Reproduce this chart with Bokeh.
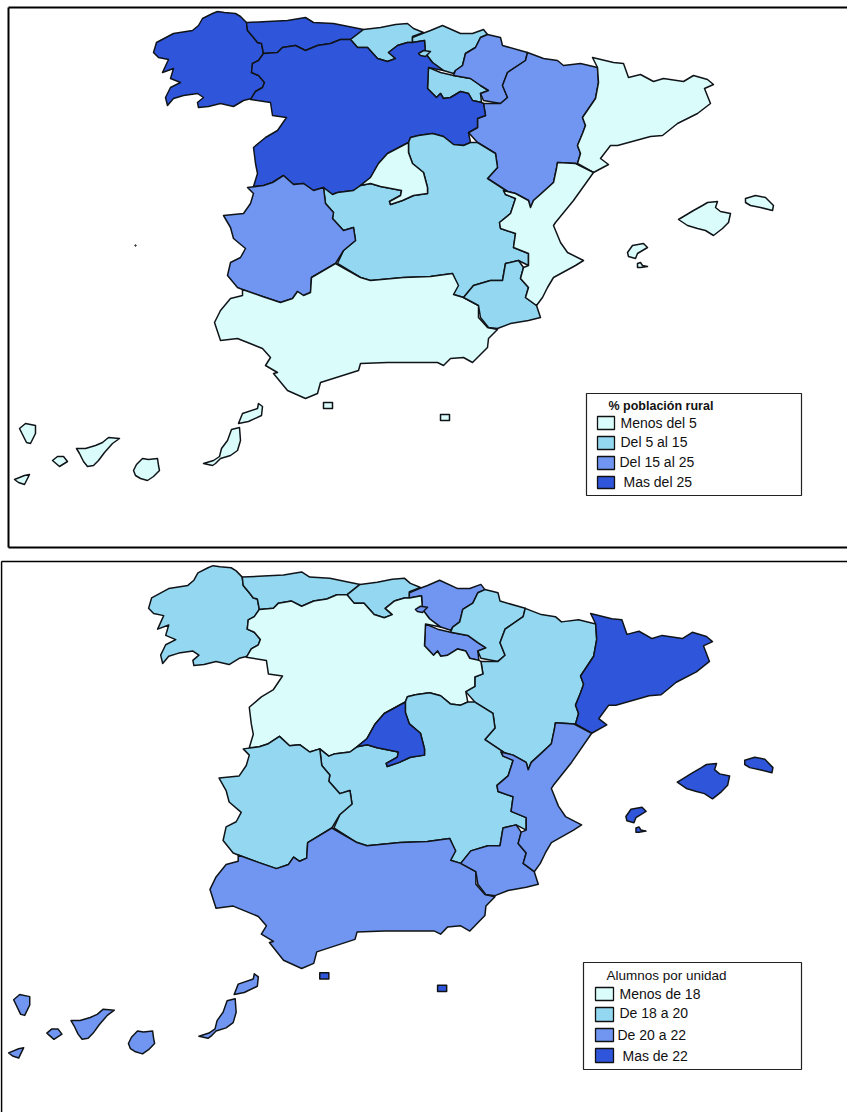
from bokeh.embed import file_html
from bokeh.models import Range1d
from bokeh.plotting import figure
from bokeh.resources import INLINE
from bokeh.core.properties import value

# ---- region outlines (map units) ----
GALICIA = [(212,13),(217,11),(224,12),(235,13),(240,16),(246,22),(247,30),(253,37),(257,42),(261,43),(263,53),(258,60),(252,63),(251,72),(258,75),(264,82),(262,87),(255,91),(251,98),(243,100),(233,106),(220,103),(208,106),(198,107),(197,102),(203,97),(197,93),(183,95),(173,98),(167,105),(165,97),(170,87),(180,82),(170,78),(173,68),(162,72),(168,59),(158,57),(153,52),(156,42),(173,33),(192,30),(198,25),(202,18)]
ASTURIAS = [(246,22),(267,21),(287,20),(305,17),(313,22),(333,23),(363,29),(350,39),(340,39),(330,43),(317,45),(305,50),(295,45),(282,47),(277,52),(263,53),(261,43),(257,42),(253,37),(247,30)]
CANTABRIA = [(363,29),(380,27),(395,24),(407,23),(413,28),(423,32),(412,36),(412,42),(407,42),(397,45),(388,52),(395,58),(387,61),(377,58),(367,47),(357,47),(350,39)]
PAIS_VASCO = [(412,42),(412,37),(422,33),(430,30),(442,25),(460,33),(472,33),(483,29),(487,34),(480,37),(475,47),(465,53),(462,65),(455,70),(453,73),(443,70),(432,62),(425,53),(424,40)]
TREVINO = [(418,53),(423,50),(430,51),(425,56),(420,55)]
LA_RIOJA = [(428,67),(440,72),(453,75),(470,78),(480,85),(488,90),(480,93),(481,102),(472,100),(468,93),(460,91),(450,97),(443,98),(440,93),(436,97),(427,88)]
CASTILLA_LEON = [(263,53),(277,52),(282,47),(295,45),(305,50),(317,45),(330,43),(340,39),(350,39),(357,47),(367,47),(377,58),(387,61),(395,58),(388,52),(397,45),(407,42),(412,42),(424,40),(425,53),(432,62),(443,70),(428,67),(427,88),(436,97),(440,93),(443,98),(450,97),(460,91),(468,93),(472,100),(481,102),(483,103),(485,115),(477,118),(477,127),(468,132),(470,142),(463,145),(453,144),(443,136),(432,133),(418,135),(410,137),(408,142),(387,153),(378,163),(370,177),(360,185),(353,190),(337,192),(332,194),(323,187),(313,190),(303,183),(293,184),(283,175),(272,182),(263,185),(253,186),(257,173),(255,163),(253,147),(265,137),(277,130),(286,117),(272,115),(270,102),(250,99),(255,91),(262,87),(264,82),(258,75),(251,72),(252,63),(258,60)]
MADRID = [(408,142),(408,152),(412,163),(423,172),(427,187),(427,193),(413,195),(402,200),(390,204),(389,201),(400,195),(401,190),(380,186),(370,183),(360,185),(370,177),(378,163),(387,153)]
CASTILLA_MANCHA = [(410,137),(418,135),(432,133),(443,136),(453,144),(463,145),(470,142),(477,142),(495,153),(497,167),(487,178),(507,191),(503,190),(505,194),(515,198),(510,213),(499,222),(500,228),(515,233),(513,247),(528,253),(528,265),(518,260),(505,263),(502,280),(490,280),(473,285),(463,297),(453,294),(457,285),(452,273),(430,276),(403,277),(370,280),(360,277),(337,263),(343,250),(355,240),(353,227),(343,230),(332,218),(333,212),(325,203),(323,187),(332,194),(337,192),(353,190),(360,185),(370,183),(380,186),(401,190),(400,195),(389,201),(390,204),(402,200),(413,195),(427,193),(427,187),(423,172),(412,163),(408,152),(408,142)]
EXTREMADURA = [(323,187),(313,190),(303,183),(293,184),(283,175),(272,182),(263,185),(247,187),(253,193),(250,203),(243,213),(223,215),(230,227),(233,238),(245,248),(240,257),(230,262),(227,275),(237,287),(242,289),(262,296),(280,302),(292,298),(297,291),(303,295),(310,292),(311,277),(335,263),(343,250),(355,240),(353,227),(343,230),(332,218),(333,212),(325,203)]
ANDALUCIA = [(335,263),(360,277),(370,280),(403,277),(430,276),(452,273),(458,285),(453,294),(463,297),(478,305),(478,317),(487,327),(497,329),(488,338),(487,347),(472,362),(463,357),(450,358),(443,365),(437,362),(413,362),(387,362),(360,363),(358,370),(320,382),(317,393),(305,398),(287,390),(273,373),(277,372),(265,365),(270,357),(262,348),(237,338),(220,340),(214,322),(220,310),(230,298),(242,295),(242,289),(262,296),(280,302),(292,298),(297,291),(303,295),(310,292),(311,277)]
MURCIA = [(463,297),(473,285),(490,280),(502,280),(505,263),(518,260),(523,267),(520,278),(528,287),(525,297),(536,305),(540,317),(528,320),(510,323),(497,328),(488,327),(480,317),(478,305)]
VALENCIA = [(557,162),(575,163),(593,172),(573,200),(555,222),(553,225),(560,242),(567,252),(583,260),(575,265),(553,277),(547,287),(542,297),(536,305),(525,297),(528,287),(520,278),(523,267),(528,265),(528,253),(513,247),(515,233),(500,228),(499,222),(510,213),(515,198),(505,194),(503,190),(507,191),(515,193),(528,200),(530,207),(533,200),(542,192),(553,182),(556,168)]
ARAGON = [(527,52),(543,58),(557,60),(563,65),(580,63),(597,67),(598,82),(595,98),(582,117),(585,125),(582,133),(577,145),(580,153),(577,163),(557,162),(556,168),(553,182),(542,192),(533,200),(530,207),(528,200),(515,193),(507,191),(487,178),(497,167),(495,153),(477,142),(468,132),(477,127),(477,118),(485,115),(483,103),(500,103),(507,97),(502,85),(507,72),(525,60)]
NAVARRA = [(487,34),(500,37),(502,45),(527,52),(525,60),(507,72),(502,85),(507,97),(500,103),(483,100),(480,93),(488,90),(480,85),(470,78),(453,75),(455,70),(462,65),(465,53),(475,47),(480,37)]
CATALUNA = [(592,57),(613,62),(623,63),(628,77),(640,74),(653,81),(663,78),(683,81),(693,75),(707,79),(713,84),(704,88),(710,103),(697,113),(677,123),(662,135),(650,136),(617,145),(610,145),(600,158),(608,164),(593,172),(577,163),(580,153),(577,145),(582,133),(585,125),(582,117),(595,98),(598,82),(597,67)]
MALLORCA = [(678,219),(683,216),(693,210),(702,205),(707,202),(717,201),(715,207),(720,211),(730,213),(728,222),(722,228),(713,235),(705,230),(697,228),(687,225)]
MENORCA = [(745,198),(755,195),(765,197),(773,205),(772,210),(760,207),(750,205),(745,202)]
IBIZA = [(627,252),(632,245),(643,243),(647,247),(637,253),(635,258),(628,256)]
FORMENTERA = [(637,263),(640,262),(642,265),(647,266),(640,267),(637,267)]
LANZAROTE = [(238,423),(242,413),(257,408),(258,403),(262,406),(261,415),(248,421)]
FUERTEVENTURA = [(203,463),(213,460),(219,456),(221,448),(227,440),(231,429),(239,427),(240,440),(237,450),(230,455),(220,458),(215,463),(212,465)]
GRAN_CANARIA = [(133,470),(136,464),(142,458),(148,459),(157,458),(158,465),(159,470),(153,476),(147,480),(140,478),(135,475)]
TENERIFE = [(76,448),(85,448),(95,445),(102,442),(108,437),(119,438),(112,443),(104,452),(98,460),(93,465),(87,466),(83,461),(79,453)]
GOMERA = [(52,460),(57,456),(63,456),(67,461),(59,466)]
LA_PALMA = [(19,428),(25,423),(35,425),(35,433),(30,443),(26,442)]
HIERRO = [(14,479),(24,475),(29,474),(24,484),(18,482)]
CEUTA = [(323,402),(332,402),(332,408),(323,408)]
MELILLA = [(440,414),(449,414),(449,420),(440,420)]
SPECK = (135, 245)

REGIONS = [GALICIA, ASTURIAS, CANTABRIA, PAIS_VASCO, LA_RIOJA, NAVARRA, ARAGON, CATALUNA, CASTILLA_LEON, TREVINO, CASTILLA_MANCHA, MADRID, EXTREMADURA, ANDALUCIA, MURCIA, VALENCIA, MALLORCA, MENORCA, IBIZA, FORMENTERA, LANZAROTE, FUERTEVENTURA, GRAN_CANARIA, TENERIFE, GOMERA, LA_PALMA, HIERRO, CEUTA, MELILLA]

# class of each region, same order as REGIONS
RURAL = [3,3,1,1,1,2,2,0,3,1,1,0,2,0,1,0,0,0,0,0,0,0,0,0,0,0,0,0,0]
ALUMNOS = [1,1,1,2,2,1,1,3,0,2,1,3,1,2,2,2,3,3,3,3,2,2,2,2,2,2,2,3,3]

COLORS = ["#DAFCFA", "#93D8F0", "#7096F2", "#2F55DB"]
RURAL_TITLE = "% población rural"
RURAL_LABELS = ["Menos del 5", "Del 5 al 15", "Del 15 al 25", "Mas del 25"]
ALUMNOS_TITLE = "Alumnos por unidad"
ALUMNOS_LABELS = ["Menos de 18", "De 18 a 20", "De 20 a 22", "Mas de 22"]

p = figure(width=847, height=1112, output_backend="svg", toolbar_location=None,
           x_axis_type=None, y_axis_type=None,
           x_range=Range1d(0, 847), y_range=Range1d(1112, 0),
           min_border=0, outline_line_color=None, margin=0,
           background_fill_color="white", border_fill_color="white")
p.grid.visible = False
# the lower map is the same outline, drawn a little larger
p.extra_x_ranges["low_x"] = Range1d(5.96, 847.05)
p.extra_y_ranges["low_y"] = Range1d(536.3, -531.9)

XS = [[q[0] for q in r] for r in REGIONS]
YS = [[q[1] for q in r] for r in REGIONS]
OUT = dict(line_color="#101418", line_width=1.5, line_join="round")
p.patches(XS, YS, fill_color=[COLORS[c] for c in RURAL], **OUT)
p.patches(XS, YS, fill_color=[COLORS[c] for c in ALUMNOS], x_range_name="low_x", y_range_name="low_y", **OUT)
p.scatter([SPECK[0]], [SPECK[1]], size=1.5, color="#333333")

p.multi_line([[8, 8], [8, 860], [8, 860]], [[7, 547], [7, 7], [547, 547]], line_color="black", line_width=2)
p.multi_line([[1, 1], [1, 860]], [[561, 1125], [561, 561]], line_color="black", line_width=1.6)


def legend(box, sw_x, sw_y, tx, ty, labels, title):
    p.quad(left=[box[0]], right=[box[2]], top=[box[1]], bottom=[box[3]],
           fill_color="white", line_color="#222222", line_width=1.2)
    for i, c in enumerate(COLORS):
        p.quad(left=[sw_x[0]], right=[sw_x[1]], top=[sw_y[i][0]], bottom=[sw_y[i][1]], fill_color=c,
               line_color="#111111", line_width=1.3)
        p.text([tx[i]], [ty[i]], text=[labels[i]], text_font=value("Liberation Sans"),
               text_font_size="14px", text_baseline="middle", text_color="#111111")
    p.text([title[0]], [title[1]], text=[title[2]], text_font=value("Liberation Sans"),
           text_font_size=title[3], text_font_style=title[4], text_baseline="middle", text_color="#111111")


legend((586, 393, 801, 495), (597, 614), [(416, 429), (436, 449), (456, 469), (476, 488)],
       [620, 620, 619, 623], [422, 441, 461, 481], RURAL_LABELS,
       (608, 405, RURAL_TITLE, "12.5px", "bold"))
legend((583, 962, 801, 1069), (595, 613), [(987, 1000), (1007, 1021), (1028, 1041), (1048, 1062)],
       [619, 619, 617, 622], [993, 1012, 1034, 1055], ALUMNOS_LABELS,
       (606, 975, ALUMNOS_TITLE, "13.5px", "normal"))

open("out.html", "w").write(file_html(p, INLINE))
